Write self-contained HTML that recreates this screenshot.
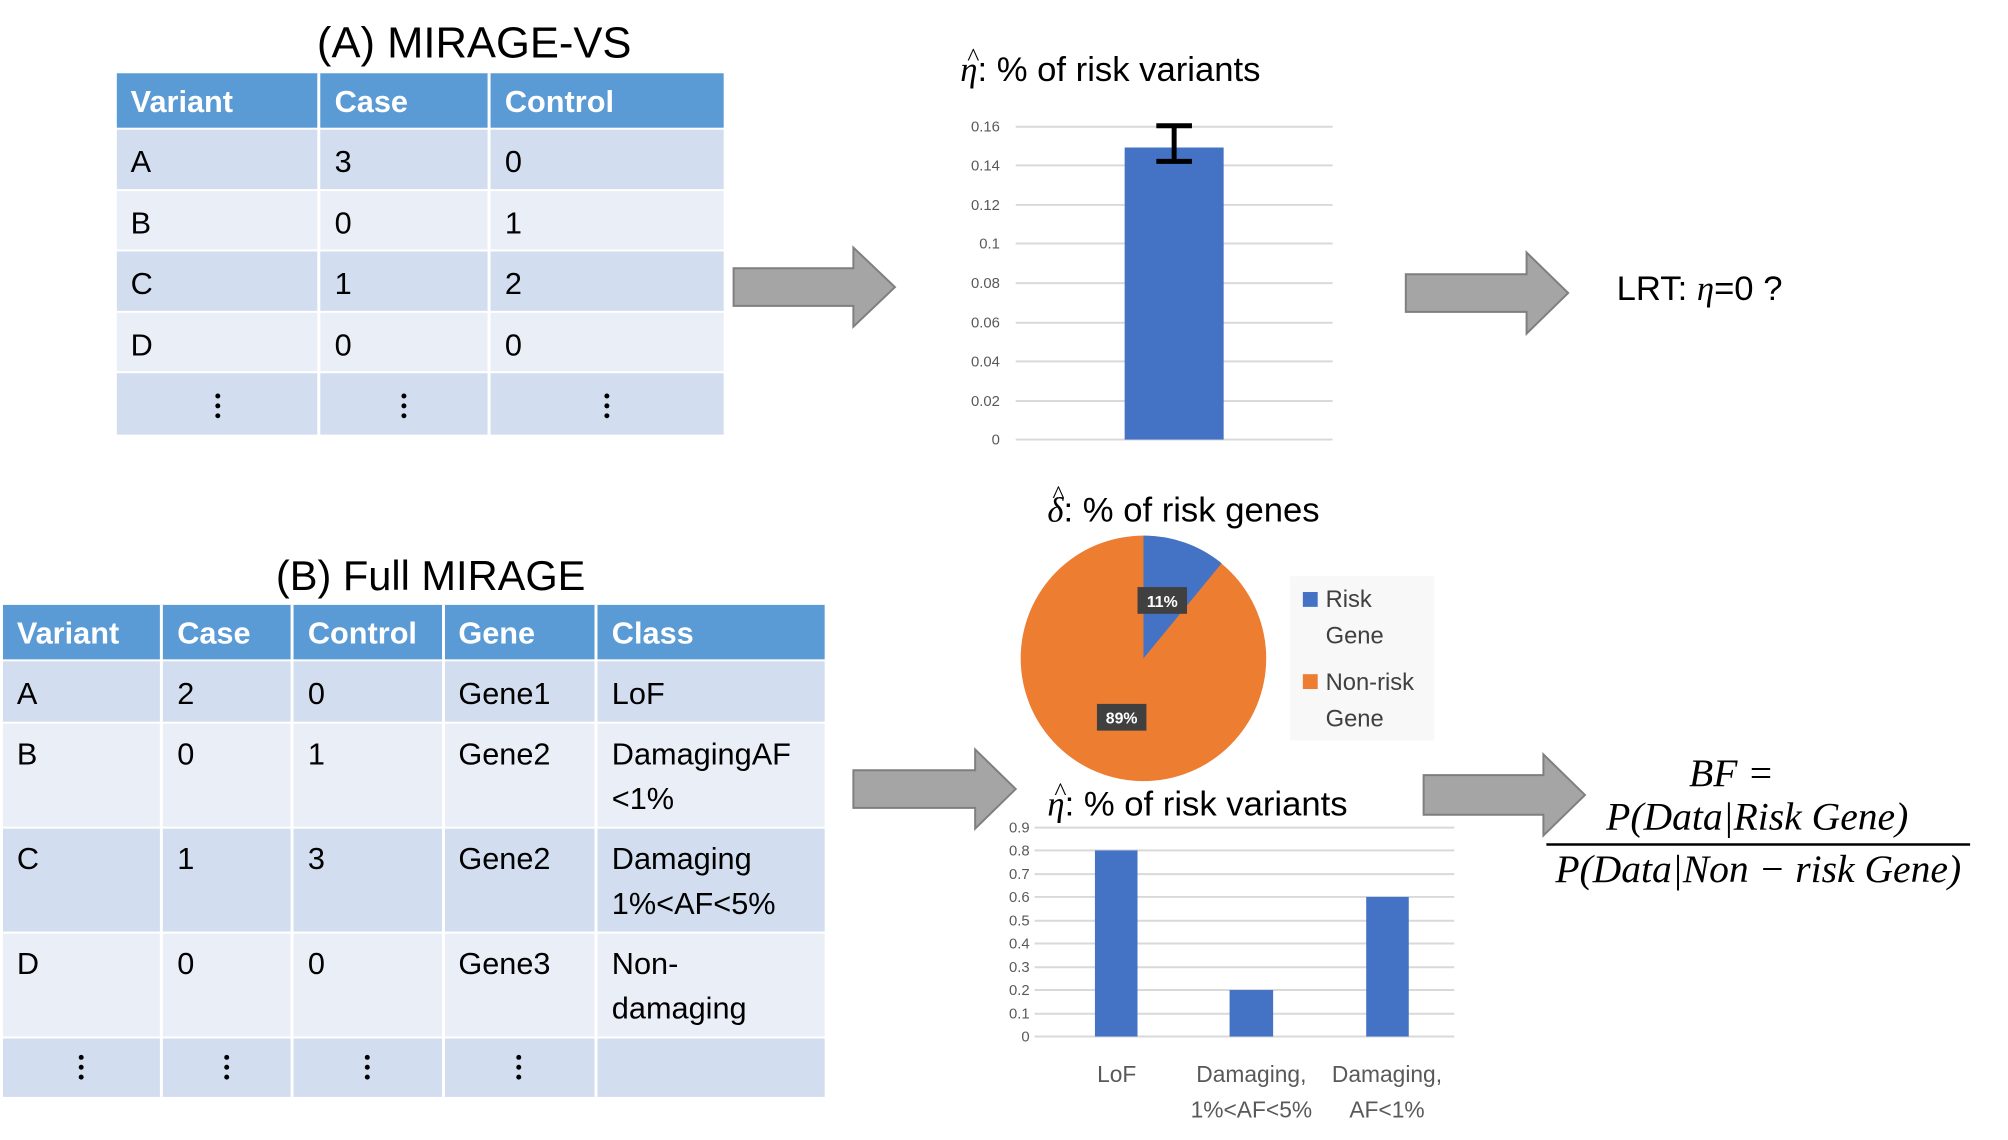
<!DOCTYPE html>
<html><head><meta charset="utf-8"><style>
html,body{margin:0;padding:0;background:#fff;}
svg{display:block;font-family:"Liberation Sans",sans-serif;}
</style></head><body>
<svg width="2008" height="1140" viewBox="0 0 2008 1140" xmlns="http://www.w3.org/2000/svg">
<g transform="scale(0.99)">
<text x="479" y="58" font-size="44" text-anchor="middle">(A)  MIRAGE-VS</text>
<g>
<rect x="118" y="74" width="613" height="55" fill="#5b9bd5"/>
<rect x="118" y="131" width="613" height="60" fill="#d2deef"/>
<rect x="118" y="193" width="613" height="59" fill="#eaeff7"/>
<rect x="118" y="254" width="613" height="60" fill="#d2deef"/>
<rect x="118" y="316" width="613" height="59" fill="#eaeff7"/>
<rect x="118" y="377" width="613" height="62" fill="#d2deef"/>
<g stroke="#fff" stroke-width="3"><line x1="322" y1="74" x2="322" y2="439"/><line x1="494" y1="74" x2="494" y2="439"/></g>
<g font-size="31" fill="#fff" font-weight="bold"><text x="132" y="113">Variant</text><text x="338" y="113">Case</text><text x="510" y="113">Control</text></g>
<g font-size="31" fill="#000">
<text x="132" y="174">A</text><text x="338" y="174">3</text><text x="510" y="174">0</text>
<text x="132" y="236">B</text><text x="338" y="236">0</text><text x="510" y="236">1</text>
<text x="132" y="297">C</text><text x="338" y="297">1</text><text x="510" y="297">2</text>
<text x="132" y="359">D</text><text x="338" y="359">0</text><text x="510" y="359">0</text>
</g>
<g fill="#000"><circle cx="220" cy="400" r="2.5"/><circle cx="220" cy="410" r="2.5"/><circle cx="220" cy="420" r="2.5"/>
<circle cx="408" cy="400" r="2.5"/><circle cx="408" cy="410" r="2.5"/><circle cx="408" cy="420" r="2.5"/>
<circle cx="613" cy="400" r="2.5"/><circle cx="613" cy="410" r="2.5"/><circle cx="613" cy="420" r="2.5"/></g>
</g>
<g fill="#a5a5a5" stroke="#7f7f7f" stroke-width="2">
<polygon points="741,271 862,271 862,250 904,290 862,330 862,309 741,309"/>
<polygon points="1420,277 1542,277 1542,255 1584,296 1542,337 1542,315 1420,315"/>
<polygon points="862,778 985,778 985,757 1026,797 985,837 985,816 862,816"/>
<polygon points="1438,783 1559,783 1559,762 1601,803 1559,844 1559,823 1438,823"/>
</g>
<text x="970" y="82" font-size="35"><tspan font-family="Liberation Serif" font-style="italic">η</tspan>: % of risk variants</text>
<text x="977" y="66" font-size="26" font-family="Liberation Serif">^</text>
<g stroke="#d9d9d9" stroke-width="2">
<line x1="1026" y1="128" x2="1346" y2="128"/><line x1="1026" y1="167" x2="1346" y2="167"/><line x1="1026" y1="207" x2="1346" y2="207"/><line x1="1026" y1="246" x2="1346" y2="246"/><line x1="1026" y1="286" x2="1346" y2="286"/><line x1="1026" y1="326" x2="1346" y2="326"/><line x1="1026" y1="365" x2="1346" y2="365"/><line x1="1026" y1="405" x2="1346" y2="405"/><line x1="1026" y1="444" x2="1346" y2="444"/>
</g>
<g font-size="15" fill="#595959" text-anchor="end">
<text x="1010" y="133">0.16</text><text x="1010" y="172">0.14</text><text x="1010" y="212">0.12</text><text x="1010" y="251">0.1</text><text x="1010" y="291">0.08</text><text x="1010" y="331">0.06</text><text x="1010" y="370">0.04</text><text x="1010" y="410">0.02</text><text x="1010" y="449">0</text>
</g>
<rect x="1136" y="149" width="100" height="295" fill="#4472c4"/>
<g stroke="#000" stroke-width="5"><line x1="1186" y1="127" x2="1186" y2="163"/><line x1="1168" y1="127" x2="1204" y2="127"/><line x1="1168" y1="163" x2="1204" y2="163"/></g>
<text x="1633" y="303" font-size="35">LRT: <tspan font-family="Liberation Serif" font-style="italic">η</tspan>=0 ?</text>
<text x="435" y="596" font-size="42" text-anchor="middle">(B) Full MIRAGE</text>
<g>
<rect x="3" y="611" width="830" height="55" fill="#5b9bd5"/>
<rect x="3" y="668" width="830" height="61" fill="#d2deef"/>
<rect x="3" y="731" width="830" height="104" fill="#eaeff7"/>
<rect x="3" y="837" width="830" height="104" fill="#d2deef"/>
<rect x="3" y="943" width="830" height="104" fill="#eaeff7"/>
<rect x="3" y="1049" width="830" height="59" fill="#d2deef"/>
<g stroke="#fff" stroke-width="3"><line x1="163" y1="611" x2="163" y2="1108"/><line x1="295" y1="611" x2="295" y2="1108"/><line x1="448" y1="611" x2="448" y2="1108"/><line x1="602" y1="611" x2="602" y2="1108"/></g>
<g font-size="31" fill="#fff" font-weight="bold"><text x="17" y="650">Variant</text><text x="179" y="650">Case</text><text x="311" y="650">Control</text><text x="463" y="650">Gene</text><text x="618" y="650">Class</text></g>
<g font-size="31" fill="#000">
<text x="17" y="711">A</text><text x="179" y="711">2</text><text x="311" y="711">0</text><text x="463" y="711">Gene1</text><text x="618" y="711">LoF</text>
<text x="17" y="772">B</text><text x="179" y="772">0</text><text x="311" y="772">1</text><text x="463" y="772">Gene2</text><text x="618" y="772">DamagingAF</text><text x="618" y="817">&lt;1%</text>
<text x="17" y="878">C</text><text x="179" y="878">1</text><text x="311" y="878">3</text><text x="463" y="878">Gene2</text><text x="618" y="878">Damaging</text><text x="618" y="923">1%&lt;AF&lt;5%</text>
<text x="17" y="984">D</text><text x="179" y="984">0</text><text x="311" y="984">0</text><text x="463" y="984">Gene3</text><text x="618" y="984">Non-</text><text x="618" y="1029">damaging</text>
</g>
<g fill="#000">
<circle cx="82" cy="1068" r="2.5"/><circle cx="82" cy="1078" r="2.5"/><circle cx="82" cy="1088" r="2.5"/>
<circle cx="229" cy="1068" r="2.5"/><circle cx="229" cy="1078" r="2.5"/><circle cx="229" cy="1088" r="2.5"/>
<circle cx="371" cy="1068" r="2.5"/><circle cx="371" cy="1078" r="2.5"/><circle cx="371" cy="1088" r="2.5"/>
<circle cx="524" cy="1068" r="2.5"/><circle cx="524" cy="1078" r="2.5"/><circle cx="524" cy="1088" r="2.5"/>
</g>
</g>
<text x="1058" y="527" font-size="35"><tspan font-family="Liberation Serif" font-style="italic">δ</tspan>:  % of risk genes</text>
<text x="1063" y="508" font-size="26" font-family="Liberation Serif">^</text>
<circle cx="1155" cy="665" r="124" fill="#ed7d31"/>
<path d="M1155,665 L1155,541 A124,124 0 0 1 1234,569 Z" fill="#4472c4"/>
<rect x="1149" y="593" width="50" height="27" fill="#404040"/>
<text x="1174" y="613" font-size="16" fill="#fff" font-weight="bold" text-anchor="middle">11%</text>
<rect x="1108" y="711" width="50" height="27" fill="#404040"/>
<text x="1133" y="731" font-size="16" fill="#fff" font-weight="bold" text-anchor="middle">89%</text>
<rect x="1303" y="582" width="146" height="166" fill="#f8f8f8"/>
<rect x="1316" y="598" width="15" height="15" fill="#4472c4"/>
<rect x="1316" y="681" width="15" height="15" fill="#ed7d31"/>
<g font-size="24" fill="#404040"><text x="1339" y="613">Risk</text><text x="1339" y="650">Gene</text><text x="1339" y="697">Non-risk</text><text x="1339" y="734">Gene</text></g>
<text x="1058" y="824" font-size="35"><tspan font-family="Liberation Serif" font-style="italic">η</tspan>: % of risk variants</text>
<text x="1065" y="808" font-size="26" font-family="Liberation Serif">^</text>
<g stroke="#d9d9d9" stroke-width="2">
<line x1="1045" y1="836" x2="1469" y2="836"/><line x1="1045" y1="859" x2="1469" y2="859"/><line x1="1045" y1="883" x2="1469" y2="883"/><line x1="1045" y1="906" x2="1469" y2="906"/><line x1="1045" y1="930" x2="1469" y2="930"/><line x1="1045" y1="953" x2="1469" y2="953"/><line x1="1045" y1="977" x2="1469" y2="977"/><line x1="1045" y1="1000" x2="1469" y2="1000"/><line x1="1045" y1="1024" x2="1469" y2="1024"/><line x1="1045" y1="1047" x2="1469" y2="1047"/>
</g>
<g font-size="15" fill="#595959" text-anchor="end">
<text x="1040" y="841">0.9</text><text x="1040" y="864">0.8</text><text x="1040" y="888">0.7</text><text x="1040" y="911">0.6</text><text x="1040" y="935">0.5</text><text x="1040" y="958">0.4</text><text x="1040" y="982">0.3</text><text x="1040" y="1005">0.2</text><text x="1040" y="1029">0.1</text><text x="1040" y="1052">0</text>
</g>
<rect x="1106" y="859" width="43" height="188" fill="#4472c4"/>
<rect x="1242" y="1000" width="44" height="47" fill="#4472c4"/>
<rect x="1380" y="906" width="43" height="141" fill="#4472c4"/>
<g font-size="23" fill="#595959" text-anchor="middle">
<text x="1128" y="1093">LoF</text>
<text x="1264" y="1093">Damaging,</text><text x="1264" y="1129">1%&lt;AF&lt;5%</text>
<text x="1401" y="1093">Damaging,</text><text x="1401" y="1129">AF&lt;1%</text>
</g>
<g font-family="Liberation Serif" font-style="italic" font-size="40" text-anchor="middle">
<text x="1749" y="794">BF =</text>
<text x="1775" y="838">P(Data|Risk Gene)</text>
<text x="1776" y="891">P(Data|Non − risk Gene)</text>
</g>
<line x1="1562" y1="853" x2="1990" y2="853" stroke="#000" stroke-width="2.5"/>
</g>
</svg>
</body></html>
